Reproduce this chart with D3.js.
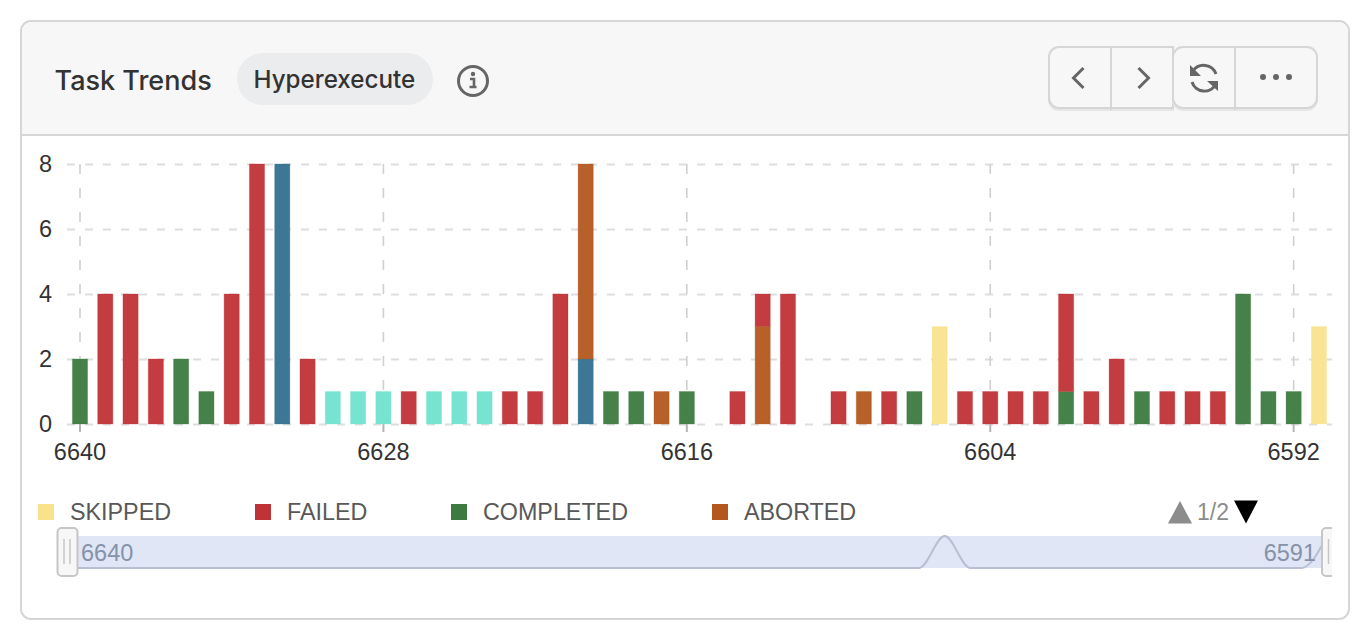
<!DOCTYPE html>
<meta charset="utf-8">
<style>
html, body { margin: 0; padding: 0; background: #fff; overflow: hidden; }
svg { display: block; }
text { font-family: "Liberation Sans", sans-serif; }
.title { font-family: Inter, sans-serif; font-weight: 500; font-size: 27px; fill: #333; }
.pill-label { font-family: Inter, sans-serif; font-weight: 500; font-size: 24.2px; fill: #333; }
.axis path { display: none; }
.axis text { font-size: 23.5px; fill: #333; }
.grid path { display: none; }
.grid line { stroke: #dedede; stroke-width: 2; stroke-dasharray: 8 10; }
.grid--x line { stroke: #d0d0d0; stroke-width: 1.6; stroke-dasharray: 10 14; }
.legend text { font-size: 23.3px; fill: #585858; }
.icon { fill: none; stroke: #666; stroke-width: 3; }
</style>
<svg width="1366" height="642"></svg>
<script src="https://d3js.org/d3.v7.min.js"></script>
<script>
// build numbers, newest on the left
const builds = d3.range(6640, 6590, -1)

const skipped   = [0,0,0,0,0,0,0,0,0,0, 0,0,0,0,0,0,0,0,0,0, 0,0,0,0,0,0,0,0,0,0, 0,0,0,0,3,0,0,0,0,0, 0,0,0,0,0,0,0,0,0,3]
const failed    = [0,4,4,2,0,0,4,8,0,2, 0,0,0,1,0,0,0,1,1,4, 0,0,0,0,0,0,1,1,4,0, 1,0,1,0,0,1,1,1,1,3, 1,2,0,1,1,1,0,0,0,0]
const completed = [2,0,0,0,2,1,0,0,0,0, 0,0,0,0,0,0,0,0,0,0, 0,1,1,0,1,0,0,0,0,0, 0,0,0,1,0,0,0,0,0,1, 0,0,1,0,0,0,4,1,1,0]
const aborted   = [0,0,0,0,0,0,0,0,0,0, 0,0,0,0,0,0,0,0,0,0, 6,0,0,1,0,0,0,3,0,0, 0,1,0,0,0,0,0,0,0,0, 0,0,0,0,0,0,0,0,0,0]
// these two sit on legend page 2, their names are not visible
const page2Teal = [0,0,0,0,0,0,0,0,0,0, 1,1,1,0,1,1,1,0,0,0, 0,0,0,0,0,0,0,0,0,0, 0,0,0,0,0,0,0,0,0,0, 0,0,0,0,0,0,0,0,0,0]
const page2Blue = [0,0,0,0,0,0,0,0,8,0, 0,0,0,0,0,0,0,0,0,0, 2,0,0,0,0,0,0,0,0,0, 0,0,0,0,0,0,0,0,0,0, 0,0,0,0,0,0,0,0,0,0]

const xTicks = [6640, 6628, 6616, 6604, 6592]
const yTicks = [0, 2, 4, 6, 8]
const legendNames = ["SKIPPED", "FAILED", "COMPLETED", "ABORTED"]

const colors = {
  blue: "#33708f", completed: "#3d7a40", aborted: "#b4571f",
  failed: "#bf3236", skipped: "#f8e38c", teal: "#6fe3cf"
}

// bottom to top
const stackKeys = ["blue", "completed", "aborted", "failed", "skipped", "teal"]
const rows = builds.map((b, i) => ({
  build: b,
  blue: page2Blue[i], completed: completed[i], aborted: aborted[i],
  failed: failed[i], skipped: skipped[i], teal: page2Teal[i]
}))

const svg = d3.select("svg")

// card
svg.append("rect")
    .attr("x", 21).attr("y", 21).attr("width", 1328).attr("height", 598).attr("rx", 10)
    .attr("fill", "#fff").attr("stroke", "#d6d6d6").attr("stroke-width", 2)
svg.append("path")
    .attr("d", "M22,134V32a10,10 0 0 1 10,-10H1338a10,10 0 0 1 10,10V134Z")
    .attr("fill", "#f7f7f7")
svg.append("line")
    .attr("x1", 22).attr("x2", 1348).attr("y1", 135).attr("y2", 135)
    .attr("stroke", "#d6d6d6").attr("stroke-width", 2)

// header
svg.append("text").attr("class", "title").attr("x", 54.5).attr("y", 90).text("Task Trends")
svg.append("rect")
    .attr("x", 237).attr("y", 53).attr("width", 196).attr("height", 52).attr("rx", 26)
    .attr("fill", "#ebecee")
svg.append("text").attr("class", "pill-label").attr("x", 253.5).attr("y", 88).text("Hyperexecute")

const info = svg.append("g").attr("transform", "translate(473,81)")
info.append("circle").attr("class", "icon").attr("r", 14.5)
info.append("circle").attr("cy", -7).attr("r", 2.2).attr("fill", "#666")
info.append("path").attr("d", "M-3,-2H1V6H3.5M-3.5,6H3.5").attr("fill", "none").attr("stroke", "#666").attr("stroke-width", 2.6)

// header buttons
const btn = svg.append("g")
function buttonShape(g, d) {
  g.append("path").attr("d", d).attr("transform", "translate(0,2)")
      .attr("fill", "none").attr("stroke", "#e6e6e6").attr("stroke-width", 2)
  g.append("path").attr("d", d).attr("fill", "#f7f7f7").attr("stroke", "#d6d6d6").attr("stroke-width", 2)
}
buttonShape(btn, "M1173,47H1059a10,10 0 0 0 -10,10V98a10,10 0 0 0 10,10H1173Z")
buttonShape(btn, "M1183,47H1307a10,10 0 0 1 10,10V98a10,10 0 0 1 -10,10H1183a10,10 0 0 1 -10,-10V57a10,10 0 0 1 10,-10Z")
btn.selectAll(".divider").data([1111, 1235]).enter().append("line")
    .attr("x1", d => d).attr("x2", d => d).attr("y1", 47).attr("y2", 110)
    .attr("stroke", "#d6d6d6").attr("stroke-width", 2)
btn.append("path").attr("class", "icon").attr("d", "M1083.5,68L1073.5,78L1083.5,88")
btn.append("path").attr("class", "icon").attr("d", "M1138.5,68L1148.5,78L1138.5,88")
btn.append("path").attr("class", "icon").attr("d", "M1193,71A13,13 0 0 1 1216,74")
btn.append("path").attr("class", "icon").attr("d", "M1216,84A13,13 0 0 1 1192,82")
btn.append("path").attr("d", "M1190,65V76H1201Z").attr("fill", "#666")
btn.append("path").attr("d", "M1218,91V81H1207Z").attr("fill", "#666")
btn.selectAll(".dot").data([1263, 1276, 1289]).enter().append("circle")
    .attr("cx", d => d).attr("cy", 77).attr("r", 3).attr("fill", "#666")

// scales
const x = d3.scaleBand().domain(builds).range([67.35, 1331.6]).paddingInner(0.4).paddingOuter(0.2)
const y = d3.scaleLinear().domain([0, 8]).range([424, 164])

// grid lines
svg.append("g").attr("class", "grid grid--y")
    .attr("transform", "translate(67,0)")
    .call(d3.axisLeft(y).tickValues(yTicks).tickSize(-1265).tickFormat(""))
svg.append("g").attr("class", "grid grid--x")
    .attr("transform", "translate(0,164)")
    .call(d3.axisBottom(x).tickValues(xTicks).tickSize(260).tickFormat(""))

// bars
const stacked = d3.stack().keys(stackKeys)(rows)
svg.append("g").selectAll("g")
    .data(stacked)
  .enter().append("g")
    .attr("fill", d => colors[d.key])
    .attr("stroke", d => colors[d.key])
    .selectAll("rect")
    .data(d => d.filter(p => p[1] > p[0]))
  .enter().append("rect")
    .attr("x", d => x(d.data.build))
    .attr("y", d => y(d[1]))
    .attr("width", x.bandwidth())
    .attr("height", d => y(d[0]) - y(d[1]))
    .attr("fill-opacity", 0.95)
    .attr("stroke-opacity", 0.3)

// axes
const xAxis = svg.append("g").attr("class", "axis")
    .attr("transform", "translate(0,424)")
    .call(d3.axisBottom(x).tickValues(xTicks).tickSize(8).tickPadding(11))
xAxis.selectAll("line").attr("stroke", "#b5b5b5").attr("stroke-width", 2)
svg.append("g").attr("class", "axis")
    .attr("transform", "translate(60,0)")
    .call(d3.axisLeft(y).tickValues(yTicks).tickSize(0).tickPadding(8))

// legend
const legendX = [38, 255, 451, 712]
const legendColors = [colors.skipped, colors.failed, colors.completed, colors.aborted]
const legend = svg.append("g").attr("class", "legend")
const entry = legend.selectAll("g").data(legendNames).enter().append("g")
    .attr("transform", (d, i) => `translate(${legendX[i]},504)`)
entry.append("rect").attr("width", 16).attr("height", 16).attr("fill", (d, i) => legendColors[i])
entry.append("text").attr("x", 32).attr("y", 16).text(d => d)

// legend pager
svg.append("path").attr("d", "M1168,523.5L1180,501L1192,523.5Z").attr("fill", "#8c8c8c")
svg.append("path").attr("d", "M1234,500.5H1258L1246,523.5Z").attr("fill", "#000")
svg.append("text").attr("x", 1197).attr("y", 520).attr("font-size", 23).attr("fill", "#8c8c8c").text("1/2")

// data zoom
svg.append("rect").attr("x", 68).attr("y", 536).attr("width", 1262).attr("height", 32).attr("fill", "#e0e6f5")
svg.append("clipPath").attr("id", "zoom-clip")
  .append("rect").attr("x", 50).attr("y", 520).attr("width", 1282).attr("height", 70)

const shadowX = d3.scalePoint().domain(builds).range([78, 1327])
const shadowY = d3.scaleLinear().domain([0, d3.max(skipped)]).range([568, 536])
svg.append("path")
    .datum(skipped)
    .attr("clip-path", "url(#zoom-clip)")
    .attr("fill", "none").attr("stroke", "#b7bfd0").attr("stroke-width", 2)
    .attr("d", d3.line().x((d, i) => shadowX(builds[i])).y(d => shadowY(d)).curve(d3.curveMonotoneX))

const zoomLabels = [[builds[0], 81, "start"], [builds[builds.length - 1], 1316, "end"]]
svg.selectAll(".zoom-label").data(zoomLabels).enter().append("text")
    .attr("x", d => d[1]).attr("y", 561).attr("text-anchor", d => d[2])
    .attr("font-size", 23.5).attr("fill", "#8592a9")
    .text(d => d[0])

const handles = svg.append("g").attr("clip-path", "url(#zoom-clip)")
  .selectAll("g").data([57.5, 1322]).enter().append("g")
    .attr("transform", d => `translate(${d},528)`)
handles.append("rect").attr("width", 20).attr("height", 48).attr("rx", 4)
    .attr("fill", "#f7f7f7").attr("stroke", "#c6c6c6").attr("stroke-width", 2)
handles.selectAll("line").data([6.5, 12.5]).enter().append("line")
    .attr("x1", d => d).attr("x2", d => d).attr("y1", 11).attr("y2", 36)
    .attr("stroke", "#c6c6c6").attr("stroke-width", 1.5)
</script>
